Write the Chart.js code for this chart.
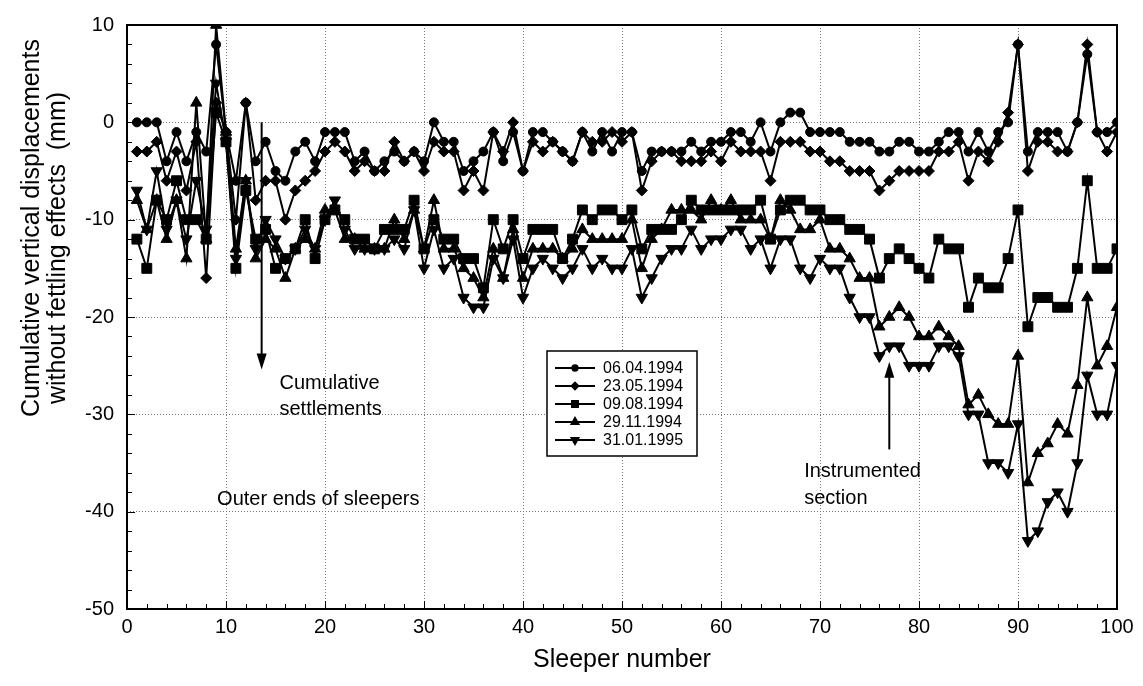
<!DOCTYPE html>
<html>
<head>
<meta charset="utf-8">
<script src="https://cdn.jsdelivr.net/npm/chart.js@4.4.0/dist/chart.umd.min.js"></script>
<style>
  html, body { margin: 0; padding: 0; background: #fff; }
  #wrap { width: 1143px; height: 686px; }
</style>
</head>
<body>
<div id="wrap"><canvas id="settlementChart"></canvas></div>
<script>
// sleeper numbers along the track
const sleepers = Array.from({ length: 100 }, (_, i) => i + 1);
const xTicks = [0, 10, 20, 30, 40, 50, 60, 70, 80, 90, 100];
const yTicks = [10, 0, -10, -20, -30, -40, -50];
const seriesNames = ['06.04.1994', '23.05.1994', '09.08.1994', '29.11.1994', '31.01.1995'];
const yTitleLines = ['Cumulative vertical displacements', 'without fettling effects  (mm)'];

// cumulative vertical displacement (mm) per sleeper
const d06041994 = [0, 0, 0, -4, -1, -4, -1, -3, 8, -1,
  -6, 2, -4, -2, -5, -6, -3, -2, -4, -1,
  -1, -1, -4, -3, -5, -4, -3, -4, -3, -4,
  0, -2, -2, -5, -4, -3, -1, -4, -1, -5,
  -1, -1, -2, -3, -4, -1, -3, -1, -3, -1,
  -1, -5, -3, -3, -3, -3, -2, -3, -2, -2,
  -1, -1, -2, 0, -3, 0, 1, 1, -1, -1,
  -1, -1, -2, -2, -2, -3, -3, -2, -2, -3,
  -3, -2, -1, -1, -3, -1, -3, -1, 0, 8,
  -3, -1, -1, -1, -3, 0, 7, -1, -1, 0];
const d23051994 = [-3, -3, -2, -6, -3, -7, -2, -16, 2, -1,
  -10, 2, -8, -6, -6, -10, -7, -6, -5, -3,
  -2, -3, -5, -4, -5, -5, -2, -4, -3, -5,
  -2, -3, -3, -7, -5, -7, -1, -3, 0, -5,
  -2, -3, -2, -3, -4, -1, -2, -2, -1, -2,
  -1, -7, -4, -3, -3, -4, -4, -4, -3, -4,
  -2, -3, -3, -3, -6, -2, -2, -2, -3, -3,
  -4, -4, -5, -5, -5, -7, -6, -5, -5, -5,
  -5, -3, -3, -2, -6, -3, -4, -2, 1, 8,
  -5, -2, -2, -3, -3, 0, 8, -1, -3, -1];
const d09081994 = [-12, -15, -8, -10, -6, -10, -10, -12, 1, -2,
  -15, -7, -12, -11, -15, -14, -13, -10, -14, -10,
  -9, -10, -12, -12, -13, -11, -11, -11, -8, -13,
  -10, -12, -12, -14, -14, -17, -10, -13, -10, -14,
  -11, -11, -11, -14, -12, -9, -10, -9, -9, -10,
  -9, -13, -11, -11, -11, -10, -8, -9, -9, -9,
  -9, -9, -9, -8, -12, -9, -8, -8, -9, -9,
  -10, -10, -11, -11, -12, -16, -14, -13, -14, -15,
  -16, -12, -13, -13, -19, -16, -17, -17, -14, -9,
  -21, -18, -18, -19, -19, -15, -6, -15, -15, -13];
const d29111994 = [-8, -11, -8, -12, -8, -14, 2, -12, 10, -1,
  -13, -6, -14, -12, -13, -16, -13, -12, -13, -9,
  -9, -12, -12, -13, -13, -13, -10, -12, -9, -13,
  -8, -13, -13, -15, -16, -18, -13, -16, -11, -16,
  -13, -13, -13, -14, -13, -11, -12, -12, -12, -12,
  -10, -15, -12, -11, -9, -9, -9, -10, -8, -9,
  -8, -10, -10, -10, -12, -8, -9, -11, -11, -10,
  -13, -13, -14, -16, -16, -21, -20, -19, -20, -22,
  -22, -21, -22, -23, -29, -28, -30, -31, -31, -24,
  -37, -34, -33, -31, -32, -27, -18, -25, -23, -19];
const d31011995 = [-7, -11, -5, -11, -8, -12, -6, -11, 4, -2,
  -14, -6, -13, -10, -12, -14, -13, -11, -13, -10,
  -8, -11, -13, -13, -13, -13, -12, -13, -9, -15,
  -11, -15, -14, -18, -19, -19, -14, -16, -12, -18,
  -15, -14, -15, -16, -15, -13, -15, -14, -15, -15,
  -13, -18, -16, -14, -13, -13, -11, -13, -12, -12,
  -11, -11, -13, -12, -15, -12, -12, -15, -16, -14,
  -15, -15, -18, -20, -20, -24, -23, -23, -25, -25,
  -25, -23, -23, -24, -30, -30, -35, -35, -36, -31,
  -43, -42, -39, -38, -40, -35, -26, -30, -30, -25];

const seriesValues = [d06041994, d23051994, d09081994, d29111994, d31011995];
const markerStyles = [
  { pointStyle: 'circle', pointRadius: 4.5, rotation: 0 },
  { pointStyle: 'rectRot', pointRadius: 5.5, rotation: 0 },
  { pointStyle: 'rect', pointRadius: 7, rotation: 0 },
  { pointStyle: 'triangle', pointRadius: 6.5, rotation: 0 },
  { pointStyle: 'triangle', pointRadius: 6.5, rotation: 180 }
];

const FONT = "'Liberation Sans', Arial, Helvetica, sans-serif";
Chart.defaults.font.family = FONT;
Chart.defaults.color = '#000';

// arrows and free text, placed in data units
const notes = [
  { text: 'Cumulative', x: 15.4, y: -26.8 },
  { text: 'settlements', x: 15.4, y: -29.5 },
  { text: 'Outer ends of sleepers', x: 9.1, y: -38.7 },
  { text: 'Instrumented', x: 68.4, y: -35.9 },
  { text: 'section', x: 68.4, y: -38.6 }
];
const arrows = [
  { x: 13.6, from: 0, to: -25.4 },
  { x: 77, from: -33.6, to: -24.6 }
];

const decorations = {
  id: 'decorations',
  afterDraw(chart) {
    const { ctx, chartArea: a, scales: { x, y } } = chart;
    ctx.save();

    // inward ticks, major and minor
    ctx.strokeStyle = '#000';
    ctx.lineWidth = 1;
    ctx.beginPath();
    for (let v = 0; v <= 100; v += 2) {
      const px = Math.round(x.getPixelForValue(v)) + 0.5;
      const len = v % 10 === 0 ? 8 : 5;
      ctx.moveTo(px, a.bottom);
      ctx.lineTo(px, a.bottom - len);
    }
    for (let v = -50; v <= 10; v += 2) {
      const py = Math.round(y.getPixelForValue(v)) + 0.5;
      const len = v % 10 === 0 ? 8 : 5;
      ctx.moveTo(a.left, py);
      ctx.lineTo(a.left + len, py);
    }
    ctx.stroke();

    // plot frame
    ctx.lineWidth = 2;
    ctx.strokeRect(a.left, a.top, a.right - a.left, a.bottom - a.top);

    // y axis title (sits above the middle of the axis in the original)
    ctx.fillStyle = '#000';
    ctx.font = '25px ' + FONT;
    ctx.textAlign = 'center';
    ctx.textBaseline = 'middle';
    [[32, 228], [58, 248]].forEach(([tx, ty], i) => {
      ctx.save();
      ctx.translate(tx, ty);
      ctx.rotate(-Math.PI / 2);
      ctx.fillText(yTitleLines[i], 0, 0);
      ctx.restore();
    });

    // arrows
    arrows.forEach(ar => {
      const px = x.getPixelForValue(ar.x);
      const y0 = y.getPixelForValue(ar.from);
      const y1 = y.getPixelForValue(ar.to);
      const dir = Math.sign(y1 - y0);
      ctx.lineWidth = 2;
      ctx.beginPath();
      ctx.moveTo(px, y0);
      ctx.lineTo(px, y1 - dir * 12);
      ctx.stroke();
      ctx.beginPath();
      ctx.moveTo(px, y1);
      ctx.lineTo(px - 5, y1 - dir * 16);
      ctx.lineTo(px + 5, y1 - dir * 16);
      ctx.closePath();
      ctx.fill();
    });

    // notes
    ctx.font = '20px ' + FONT;
    ctx.textAlign = 'left';
    notes.forEach(n => {
      ctx.fillText(n.text, x.getPixelForValue(n.x), y.getPixelForValue(n.y));
    });

    // legend box
    const lx = 547, ly = 351, lw = 150, rowH = 18;
    ctx.fillStyle = '#fff';
    ctx.fillRect(lx, ly, lw, rowH * seriesNames.length + 15);
    ctx.lineWidth = 1.5;
    ctx.strokeRect(lx, ly, lw, rowH * seriesNames.length + 15);
    ctx.fillStyle = '#000';
    ctx.font = '16px ' + FONT;
    seriesNames.forEach((name, i) => {
      const cy = ly + 17 + i * rowH;
      ctx.lineWidth = 2;
      ctx.beginPath();
      ctx.moveTo(lx + 8, cy);
      ctx.lineTo(lx + 48, cy);
      ctx.stroke();
      const m = markerStyles[i];
      Chart.helpers.drawPoint(ctx, {
        pointStyle: m.pointStyle,
        radius: m.pointRadius * 0.6,
        rotation: m.rotation,
        borderWidth: 1
      }, lx + 28, cy);
      ctx.fillText(name, lx + 56, cy + 1);
    });

    ctx.restore();
  }
};

const ctx = document.getElementById('settlementChart').getContext('2d');
const settlementChart = new Chart(ctx, {
  type: 'line',
  data: {
    datasets: seriesNames.map((name, i) => ({
      label: name,
      data: sleepers.map((s, k) => ({ x: s, y: seriesValues[i][k] })),
      borderColor: '#000',
      backgroundColor: '#000',
      borderWidth: 2,
      pointStyle: markerStyles[i].pointStyle,
      pointRadius: markerStyles[i].pointRadius,
      pointRotation: markerStyles[i].rotation,
      pointBorderWidth: 1,
      tension: 0,
      fill: false
    }))
  },
  options: {
    responsive: true,
    maintainAspectRatio: false,
    animation: false,
    layout: { padding: { left: 0, top: 19, right: 26, bottom: 0 } },
    plugins: {
      legend: { display: false },
      tooltip: { enabled: false }
    },
    scales: {
      x: {
        type: 'linear',
        min: 0,
        max: 100,
        afterFit: s => { s.height = 77; },
        afterBuildTicks: s => { s.ticks = xTicks.map(v => ({ value: v })); },
        ticks: { font: { size: 20 }, padding: 6, maxRotation: 0 },
        grid: { color: '#777', lineWidth: 1, drawTicks: false },
        border: { display: false, dash: [1, 2] },
        title: {
          display: true,
          text: 'Sleeper number',
          font: { size: 25, lineHeight: 1.1 },
          padding: { top: 0, bottom: 12 }
        }
      },
      y: {
        type: 'linear',
        min: -50,
        max: 10,
        afterFit: s => { s.width = 127; },
        afterBuildTicks: s => { s.ticks = yTicks.map(v => ({ value: v })); },
        ticks: { font: { size: 20 }, padding: 13 },
        grid: { color: '#777', lineWidth: 1, drawTicks: false },
        border: { display: false, dash: [1, 2] },
        title: { display: false }
      }
    }
  },
  plugins: [decorations]
});
</script>
</body>
</html>
